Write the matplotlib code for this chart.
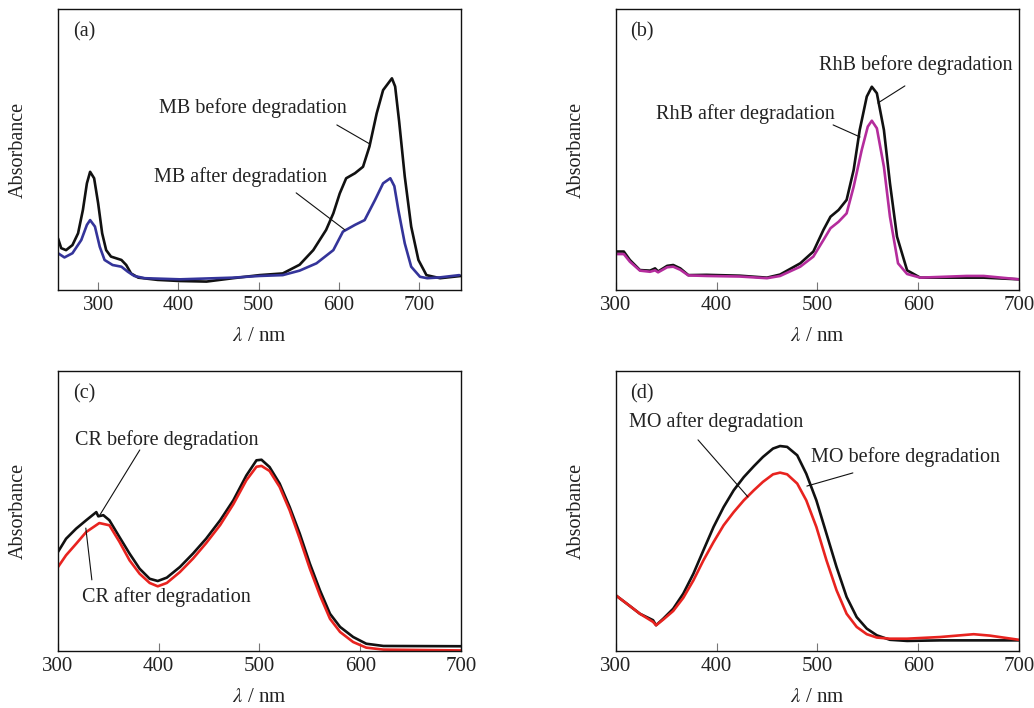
import matplotlib
matplotlib.use("Agg")
import matplotlib.pyplot as plt

plt.rcParams['font.family'] = ['Liberation Serif', 'DejaVu Serif']
plt.rcParams['mathtext.fontset'] = 'stix'

# (a) methylene blue
mb_wl_before = [250, 254, 260, 268, 275, 281, 286, 290, 295, 300, 305, 310, 316, 329, 335, 341, 350, 374,
                402, 435, 468, 501, 530, 551, 568, 584, 593, 601, 609, 620, 630, 638, 647, 655, 666, 670,
                675, 682, 690, 699, 709, 726, 752]
mb_before = [0.184, 0.149, 0.142, 0.160, 0.202, 0.285, 0.380, 0.421, 0.398, 0.309, 0.202, 0.142, 0.119,
             0.107, 0.089, 0.059, 0.044, 0.036, 0.032, 0.030, 0.042, 0.053, 0.059, 0.090, 0.142, 0.214,
             0.273, 0.344, 0.398, 0.416, 0.439, 0.511, 0.629, 0.712, 0.754, 0.725, 0.600, 0.404, 0.226,
             0.107, 0.053, 0.042, 0.050]
mb_wl_after = [250, 258, 268, 279, 286, 290, 296, 302, 308, 318, 329, 337, 345, 358, 402, 468, 501, 530,
               551, 572, 593, 605, 620, 632, 645, 655, 664, 669, 674, 682, 690, 701, 710, 726, 750]
mb_after = [0.131, 0.116, 0.131, 0.178, 0.232, 0.249, 0.226, 0.154, 0.107, 0.089, 0.083, 0.065, 0.050,
            0.042, 0.038, 0.044, 0.050, 0.053, 0.069, 0.095, 0.142, 0.208, 0.232, 0.249, 0.321, 0.380,
            0.398, 0.370, 0.285, 0.166, 0.083, 0.047, 0.042, 0.045, 0.053]

# (b) rhodamine B
rhb_wl_before = [300, 308, 314, 324, 334, 339, 342, 351, 357, 364, 372, 390, 423, 450, 463, 483, 496, 506,
                 513, 521, 529, 536, 542, 549, 554, 559, 566, 572, 579, 589, 602, 648, 665, 700]
rhb_before = [0.137, 0.137, 0.107, 0.071, 0.069, 0.077, 0.066, 0.086, 0.089, 0.077, 0.053, 0.054, 0.051,
              0.044, 0.055, 0.095, 0.137, 0.214, 0.261, 0.285, 0.321, 0.428, 0.570, 0.689, 0.724, 0.701,
              0.570, 0.380, 0.190, 0.070, 0.044, 0.044, 0.044, 0.038]
rhb_wl_after = [300, 308, 314, 324, 334, 339, 342, 351, 357, 364, 372, 390, 423, 450, 463, 483, 496, 506,
                513, 521, 529, 536, 544, 550, 554, 559, 566, 572, 580, 589, 602, 648, 665, 700]
rhb_after = [0.128, 0.128, 0.101, 0.069, 0.065, 0.070, 0.063, 0.081, 0.083, 0.072, 0.052, 0.050, 0.048,
             0.042, 0.050, 0.083, 0.119, 0.178, 0.220, 0.243, 0.273, 0.368, 0.499, 0.582, 0.603, 0.576,
             0.439, 0.261, 0.095, 0.057, 0.044, 0.050, 0.050, 0.038]

# (c) congo red
cr_wl_before = [300, 308, 318, 328, 338, 340, 345, 351, 361, 371, 381, 391, 399, 408, 421, 434, 447, 461,
                474, 487, 497, 502, 510, 520, 530, 540, 550, 560, 570, 580, 593, 606, 623, 700]
cr_before = [0.354, 0.401, 0.437, 0.467, 0.496, 0.481, 0.485, 0.467, 0.407, 0.348, 0.294, 0.258, 0.250,
             0.262, 0.300, 0.348, 0.401, 0.467, 0.538, 0.627, 0.681, 0.683, 0.657, 0.598, 0.514, 0.419,
             0.312, 0.217, 0.133, 0.086, 0.050, 0.026, 0.018, 0.017]
cr_wl_after = [300, 308, 318, 328, 341, 351, 361, 371, 381, 391, 399, 408, 421, 434, 447, 461, 474, 487,
               497, 502, 510, 520, 530, 540, 550, 560, 570, 580, 593, 606, 623, 700]
cr_after = [0.300, 0.342, 0.383, 0.425, 0.457, 0.449, 0.390, 0.324, 0.276, 0.243, 0.231, 0.243, 0.282,
            0.330, 0.385, 0.450, 0.524, 0.610, 0.658, 0.661, 0.643, 0.586, 0.502, 0.401, 0.294, 0.199,
            0.115, 0.068, 0.032, 0.012, 0.005, 0.002]

# (d) methyl orange
mo_wl = [300, 311, 324, 337, 340, 347, 357, 367, 377, 387, 397, 407, 417, 427, 437, 446, 456, 463, 470,
         480, 489, 499, 509, 519, 529, 539, 549, 559, 572, 589, 622, 655, 671, 700]
mo_before = [0.199, 0.169, 0.133, 0.110, 0.092, 0.115, 0.151, 0.205, 0.276, 0.360, 0.443, 0.514, 0.574,
             0.621, 0.660, 0.693, 0.723, 0.732, 0.729, 0.699, 0.633, 0.538, 0.419, 0.300, 0.193, 0.121,
             0.080, 0.056, 0.040, 0.036, 0.038, 0.038, 0.038, 0.038]
mo_after = [0.199, 0.169, 0.133, 0.104, 0.092, 0.112, 0.143, 0.190, 0.252, 0.324, 0.389, 0.449, 0.496,
            0.538, 0.574, 0.604, 0.631, 0.637, 0.631, 0.598, 0.538, 0.443, 0.324, 0.217, 0.133, 0.086,
            0.060, 0.048, 0.044, 0.044, 0.050, 0.060, 0.055, 0.040]

BLACK = '#111111'
BLUE = '#34349a'
MAGENTA = '#b42c9c'
RED = '#e8231f'
TXT = '#222222'

fig = plt.figure(figsize=(10.34, 7.08), dpi=100)

rects = {
    'a': [0.0561, 0.5904, 0.3897, 0.3965],
    'b': [0.5955, 0.5904, 0.3900, 0.3965],
    'c': [0.0561, 0.0805, 0.3897, 0.3955],
    'd': [0.5955, 0.0805, 0.3900, 0.3955],
}


def setup(ax, label, xlim):
    ax.set_xlim(*xlim)
    ax.set_ylim(0, 1)
    ax.set_xticks([300, 400, 500, 600, 700])
    ax.set_yticks([])
    ax.tick_params(axis='x', direction='in', length=6, width=0.8, color='#777777',
                   labelsize=15, pad=4, labelcolor=TXT)
    for s in ax.spines.values():
        s.set_linewidth(1.0)
        s.set_color('#111111')
    ax.set_ylabel('Absorbance', fontsize=14.5, color=TXT)
    ax.yaxis.set_label_coords(-0.099, 0.5)
    ax.yaxis.label.set_va('center')
    ax.set_xlabel(r'$\lambda$ / nm', fontsize=15, color=TXT)
    ax.xaxis.set_label_coords(0.5, -0.167)
    ax.xaxis.label.set_va('center')
    ax.text(0.065, 0.918, label, transform=ax.transAxes, fontsize=14.5, color=TXT,
            ha='center', va='center')


def note(ax, text, txy, p0, p1):
    ax.text(txy[0], txy[1], text, transform=ax.transAxes, fontsize=14.5, color=TXT,
            ha='center', va='center')
    ax.annotate('', xy=p1, xytext=p0, xycoords='axes fraction', textcoords='axes fraction',
                arrowprops=dict(arrowstyle='-', color='#111111', lw=0.8, shrinkA=0, shrinkB=0))


lw = 1.9
kw = dict(lw=lw, solid_joinstyle='round', solid_capstyle='round')

ax = fig.add_axes(rects['a'])
ax.plot(mb_wl_before, mb_before, color=BLACK, **kw)
ax.plot(mb_wl_after, mb_after, color=BLUE, **kw)
setup(ax, '(a)', (250, 752))
note(ax, 'MB before degradation', (0.483, 0.648), (0.692, 0.588), (0.774, 0.520))
note(ax, 'MB after degradation', (0.452, 0.403), (0.591, 0.346), (0.712, 0.214))

ax = fig.add_axes(rects['b'])
ax.plot(rhb_wl_before, rhb_before, color=BLACK, **kw)
ax.plot(rhb_wl_after, rhb_after, color=MAGENTA, **kw)
setup(ax, '(b)', (300, 700))
note(ax, 'RhB before degradation', (0.743, 0.802), (0.717, 0.727), (0.650, 0.666))
note(ax, 'RhB after degradation', (0.322, 0.627), (0.539, 0.588), (0.606, 0.545))

ax = fig.add_axes(rects['c'])
ax.plot(cr_wl_before, cr_before, color=BLACK, **kw)
ax.plot(cr_wl_after, cr_after, color=RED, **kw)
setup(ax, '(c)', (300, 700))
note(ax, 'CR before degradation', (0.270, 0.754), (0.203, 0.718), (0.104, 0.486))
note(ax, 'CR after degradation', (0.268, 0.193), (0.084, 0.254), (0.069, 0.439))

ax = fig.add_axes(rects['d'])
ax.plot(mo_wl, mo_before, color=BLACK, **kw)
ax.plot(mo_wl, mo_after, color=RED, **kw)
setup(ax, '(d)', (300, 700))
note(ax, 'MO after degradation', (0.250, 0.818), (0.204, 0.754), (0.328, 0.550))
note(ax, 'MO before degradation', (0.719, 0.693), (0.588, 0.636), (0.474, 0.589))

fig.savefig('out.png', dpi=100)
